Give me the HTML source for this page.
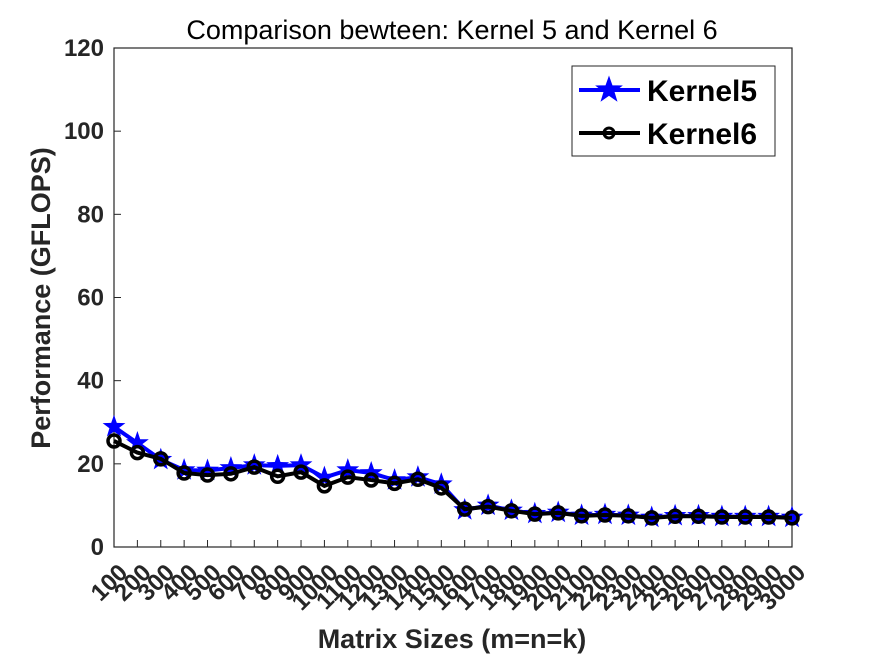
<!DOCTYPE html>
<html><head><meta charset="utf-8"><style>body{margin:0;background:#fff}svg{display:block}text{font-family:"Liberation Sans",Arial,sans-serif}</style></head>
<body>
<svg id="chart" width="875" height="656" viewBox="0 0 875 656" xmlns="http://www.w3.org/2000/svg">
<rect width="875" height="656" fill="#fff"/>
<text x="452" y="39" font-size="27" text-anchor="middle" fill="#000">Comparison bewteen: Kernel 5 and Kernel 6</text>
<rect x="114" y="48" width="678" height="499" fill="none" stroke="#262626" stroke-width="1.2"/>
<g id="yticks"></g><g id="xticks"></g>
<text transform="translate(50,298) rotate(-90)" font-size="27" font-weight="bold" text-anchor="middle" fill="#262626">Performance (GFLOPS)</text>
<text x="452" y="648" font-size="27" font-weight="bold" text-anchor="middle" fill="#262626">Matrix Sizes (m=n=k)</text>
<g id="series"></g>
<g>
<rect x="572" y="66" width="203" height="90" fill="#fff" stroke="#262626" stroke-width="1"/>
<g>
<line x1="579" y1="90" x2="640" y2="90" stroke="#0000ff" stroke-width="4"/>
<polygon id="legstar" fill="#0000ff" stroke="#0000ff"/>
<text x="647" y="101" font-size="30" font-weight="bold" fill="#000">Kernel5</text></g>
<g>
<line x1="579" y1="133" x2="640" y2="133" stroke="#000" stroke-width="4"/>
<circle cx="609" cy="133" r="5" fill="none" stroke="#000" stroke-width="3"/>
<text x="647" y="144" font-size="30" font-weight="bold" fill="#000">Kernel6</text></g>
</g>
</svg>
<script>
const sizes=[100,200,300,400,500,600,700,800,900,1000,1100,1200,1300,1400,1500,1600,1700,1800,1900,2000,2100,2200,2300,2400,2500,2600,2700,2800,2900,3000];
const kernel5=[28.9,25,21,18.5,18.4,19,19.7,19.5,19.7,16.7,18.5,17.8,16.1,16.8,15.1,8.9,10,8.8,8,8.3,7.6,7.8,7.6,7.1,7.5,7.5,7.3,7.3,7.3,7.1];
const kernel6=[25.5,22.7,21.2,17.8,17.3,17.6,19.2,17,18,14.7,16.8,16.1,15.3,16.3,14.2,9.1,9.7,8.7,7.9,8.2,7.5,7.7,7.5,7.0,7.4,7.4,7.2,7.2,7.2,7.0];
const yTicks=[0,20,40,60,80,100,120];
const NS='http://www.w3.org/2000/svg';
const X=v=>114+(v-100)/(3000-100)*678;
const Y=v=>547-v/120*499;
function mk(tag,attrs,parent){const e=document.createElementNS(NS,tag);for(const k in attrs)e.setAttribute(k,attrs[k]);parent.appendChild(e);return e;}
function starPts(cx,cy,R){const r=R*0.4;let p=[];for(let i=0;i<10;i++){const a=-Math.PI/2+i*Math.PI/5;const rr=i%2?r:R;p.push((cx+rr*Math.cos(a)).toFixed(1)+','+(cy+rr*Math.sin(a)).toFixed(1));}return p.join(' ');}
document.getElementById('legstar').setAttribute('points',starPts(609,90,13));
const yg=document.getElementById('yticks');
yTicks.forEach(t=>{
 const l=mk('line',{x1:114,x2:121,y1:Y(t),y2:Y(t),stroke:'#262626'},yg);
 
 
 const tx=mk('text',{x:104,y:Y(t)+8,'font-size':24,'font-weight':'bold','text-anchor':'end',fill:'#262626'},yg);
 tx.textContent=t;
 
 
});
const xg=document.getElementById('xticks');
sizes.forEach(s=>{
 const x=X(s);
 const l=mk('line',{x1:x,x2:x,y1:547,y2:540,stroke:'#262626'},xg);
 
 
 const tx=mk('text',{transform:`translate(${x+15},${574}) rotate(-45)`,'font-size':24,'font-weight':'bold','text-anchor':'end',fill:'#262626'},xg);
 tx.textContent=s;
 
 
});
const sg=document.getElementById('series');
const p5=mk('polyline',{points:sizes.map((s,i)=>X(s)+','+Y(kernel5[i])).join(' '),fill:'none',stroke:'#0000ff','stroke-width':4},sg);


sizes.forEach((s,i)=>{
 const st=mk('polygon',{points:starPts(X(s),Y(kernel5[i]),12),fill:'#0000ff'},sg);
 
 
});
const p6=mk('polyline',{points:sizes.map((s,i)=>X(s)+','+Y(kernel6[i])).join(' '),fill:'none',stroke:'#000','stroke-width':4},sg);


sizes.forEach((s,i)=>{
 const c=mk('circle',{cx:X(s),cy:Y(kernel6[i]),r:6,fill:'none',stroke:'#000','stroke-width':3.5},sg);
 
 
});
</script>
</body></html>
